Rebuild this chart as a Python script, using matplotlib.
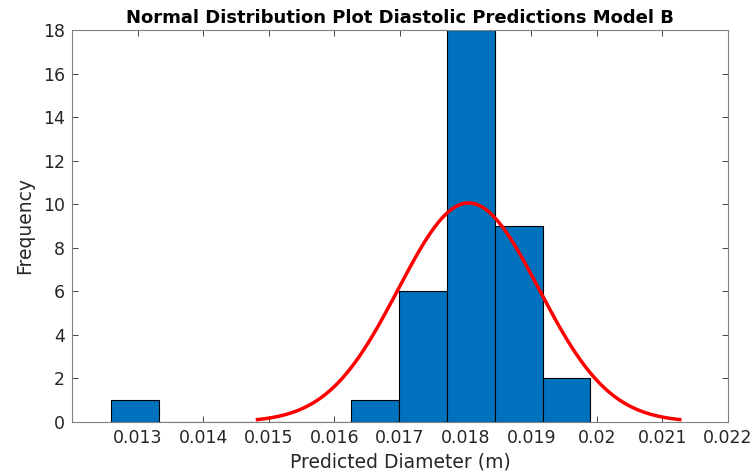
import numpy as np
import matplotlib.pyplot as plt

plt.rcParams['font.family'] = ['DejaVu Sans']

# histogram of predicted diameters (m)
bin_lo = 0.012594
bin_hi = 0.019904
counts = [1, 0, 0, 0, 0, 1, 6, 18, 9, 2]

# fitted normal distribution
mu = 0.018046
sigma = 0.001073

xticks = [0.013, 0.014, 0.015, 0.016, 0.017, 0.018, 0.019, 0.02, 0.021, 0.022]
xtick_labels = ['0.013', '0.014', '0.015', '0.016', '0.017', '0.018', '0.019', '0.02', '0.021', '0.022']
yticks = [0, 2, 4, 6, 8, 10, 12, 14, 16, 18]

edges = np.linspace(bin_lo, bin_hi, len(counts) + 1)
width = edges[1] - edges[0]
n = sum(counts)

xs = np.linspace(mu - 3 * sigma, mu + 3 * sigma, 200)
pdf = np.exp(-0.5 * ((xs - mu) / sigma) ** 2) / (sigma * np.sqrt(2 * np.pi))
ys = pdf * n * width

fig = plt.figure(figsize=(7.55, 4.73), dpi=100)
ax = fig.add_axes([0.0954, 0.1078, 0.8688, 0.8288])

ax.bar(edges[:-1], counts, width=width, align='edge', color='#0072BD',
       edgecolor='black', linewidth=0.8, zorder=2)
ax.plot(xs, ys, color='red', linewidth=2.5, zorder=3)

ax.set_xlim(0.012, 0.022)
ax.set_ylim(0, 18)
ax.set_xticks(xticks)
ax.set_xticklabels(xtick_labels)
ax.set_yticks(yticks)

grey = '#262626'
for s in ax.spines.values():
    s.set_color('#808080')
    s.set_linewidth(0.8)
ax.tick_params(direction='in', top=True, right=True, length=4, width=0.6,
               color=grey, labelsize=12.5, labelcolor=grey, pad=5)

ax.set_xlabel('Predicted Diameter (m)', fontsize=13.5, color=grey, labelpad=4)
ax.set_ylabel('Frequency', fontsize=13.5, color=grey, labelpad=6)
ax.set_title('Normal Distribution Plot Diastolic Predictions Model B',
             fontsize=13, fontweight='bold', pad=5)

fig.savefig('out.png', dpi=100)
